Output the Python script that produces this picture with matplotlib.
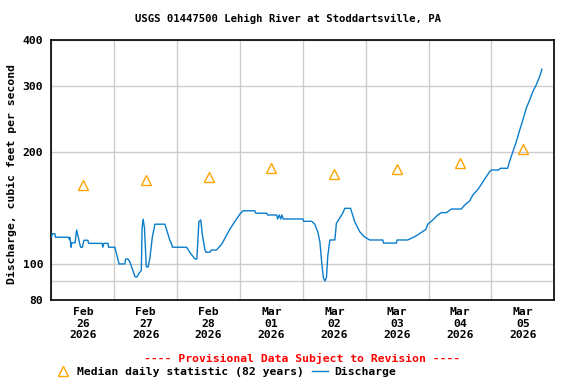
import matplotlib
matplotlib.use("Agg")
import matplotlib.pyplot as plt
import pandas as pd
from matplotlib.lines import Line2D

start = pd.Timestamp("2026-02-26 00:00")

# discharge readings: hours after Feb 26 00:00, cfs
hours = [0, 0.3, 1.3, 1.5, 6.3, 6.7, 7.0, 7.3, 7.5, 7.7, 9.0, 9.6, 10.0, 11.1, 11.8, 12.4,
         13.9, 14.2, 19.3, 19.6, 20.0, 21.6, 21.8, 24.2, 25.8, 28.0, 28.3, 29.2, 30.0, 31.9,
         32.6, 33.5, 34.3, 34.6, 35.0, 35.5, 36.2, 36.9, 37.6, 38.5, 39.5, 43.3, 45.2, 45.8,
         46.2, 51.6, 53.0, 54.8, 55.5, 56.3, 57.0, 57.6, 58.6, 59.0, 60.5, 61.0, 63.0, 65.0,
         68.1, 70.0, 71.9, 73.1, 77.6, 78.0, 78.8, 82.2, 82.5, 86.0, 86.3, 87.0, 87.5, 88.0,
         88.5, 96.0, 96.3, 99.4, 100.5, 101.7, 102.5, 103.2, 103.8, 104.4, 105.0, 105.5, 106.3,
         108.2, 108.8, 111.2, 112.0, 114.2, 115.8, 117.7, 119.4, 121.5, 126.5, 126.8, 131.7,
         132.0, 136.0, 138.7, 141.7, 143.0, 143.7, 145.6, 147.5, 148.9, 150.8, 152.7, 156.5,
         157.8, 159.7, 160.9, 162.9, 164.8, 166.1, 167.3, 168.0, 170.7, 171.5, 174.2, 174.9,
         176.2, 177.5, 178.8, 180.0, 181.3, 182.6, 183.8, 185.1, 186.4, 187.3]
cfs = [118, 120.6, 120.6, 118, 118, 116.7, 118, 114, 110.9, 114, 114, 123.4, 120, 110.9, 110.9, 115.8,
       115.8, 113.6, 113.6, 110.9, 113.6, 113.6, 110.9, 110.9, 100, 100, 103.1, 103.1, 101, 92.4,
       92.2, 94.6, 96, 125, 131.9, 125, 98.3, 98.1, 104, 118, 127.9, 127.9, 115.8, 113.6,
       110.9, 110.9, 107, 103.1, 103.1, 130, 131.3, 120, 109, 107.5, 107.5, 109, 109, 113,
       124, 130, 136, 139, 139, 137, 136.9, 136.9, 135.4, 135.4, 132.1, 135.4, 132.1, 135.4,
       132.1, 132.1, 130.2, 130.2, 128, 121.9, 114.6, 100.6, 92, 90, 92, 105, 116,
       116, 128.6, 136.9, 141.1, 141.1, 129.9, 122.1, 118.4, 116, 116, 113.8, 113.8,
       116, 116, 118.4, 122.1, 124, 127.9, 131.3, 135.4, 137.4, 137.4, 140.5, 140.5,
       144.1, 147.7, 153.3, 158.8, 166.4, 171.7, 177.1, 178.9, 178.9, 180.8, 180.8, 188.4,
       200.4, 213.2, 229.2, 243.9, 262.2, 276, 290.6, 302.9, 318.9, 333.8]

median_days = pd.date_range("2026-02-26 12:00", periods=8, freq="D")
median_cfs = [163, 168, 171, 181, 174, 180, 187, 204]

day_labels = ["Feb\n26\n2026", "Feb\n27\n2026", "Feb\n28\n2026", "Mar\n01\n2026",
              "Mar\n02\n2026", "Mar\n03\n2026", "Mar\n04\n2026", "Mar\n05\n2026"]

y_ticks = [80, 100, 200, 300, 400]

times = start + pd.to_timedelta(hours, unit="h")

font = "DejaVu Sans Mono"
fs_title = 7.7
fs = 8.2
blue = "#0a7ccc"
orange = "#ffa500"

fig = plt.figure(figsize=(5.76, 3.84), dpi=100)
ax = fig.add_axes([0.0894, 0.21875, 0.9623 - 0.0894, 0.8958 - 0.21875])

ax.plot(times, cfs, color=blue, lw=1.0, zorder=3)
ax.plot(median_days, median_cfs, ls="none", marker="^", ms=7.5, mfc="none",
        mec=orange, mew=1.0, zorder=4)

ax.set_yscale("log")
ax.set_ylim(80, 400)
ax.set_yticks(y_ticks)
ax.set_yticklabels([str(v) for v in y_ticks])
ax.set_yticks([90], minor=True)
ax.yaxis.set_minor_formatter(plt.NullFormatter())

ax.set_xlim(start, start + pd.Timedelta(days=8))
ax.set_xticks(median_days)
ax.set_xticklabels(day_labels, linespacing=1.2)
ax.set_xticks(pd.date_range(start, periods=9, freq="D"), minor=True)

ax.grid(True, which="minor", color="#cccccc", lw=1.0)
ax.grid(True, which="major", axis="y", color="#cccccc", lw=1.0)
ax.set_axisbelow(True)
ax.tick_params(which="both", length=0)
ax.tick_params(axis="x", pad=5)
ax.tick_params(axis="y", pad=6)
for lab in ax.get_xticklabels() + ax.get_yticklabels():
    lab.set_fontfamily(font)
    lab.set_fontweight("bold")
    lab.set_fontsize(fs)
for sp in ax.spines.values():
    sp.set_linewidth(1.2)

fig.text(0.5, 0.9505, "USGS 01447500 Lehigh River at Stoddartsville, PA", ha="center",
         va="center", family=font, weight="bold", size=fs_title)
fig.text(0.021, 0.5456, "Discharge, cubic feet per second", rotation=90, ha="center",
         va="center", family=font, weight="bold", size=fs)
fig.text(0.524, 0.0677, "---- Provisional Data Subject to Revision ----", ha="center",
         va="center", family=font, weight="bold", size=fs, color="red")

handles = [Line2D([], [], ls="none", marker="^", ms=7.5, mfc="none", mec=orange, mew=1.0),
           Line2D([], [], color=blue, lw=1.0)]
fig.legend(handles, ["Median daily statistic (82 years)", "Discharge"], ncol=2,
           loc="center left", bbox_to_anchor=(0.0762, 0.03125), frameon=False,
           handlelength=1.47, handletextpad=0.52, columnspacing=0.7,
           prop={"family": font, "weight": "bold", "size": fs})

fig.savefig("out.png", dpi=100)
